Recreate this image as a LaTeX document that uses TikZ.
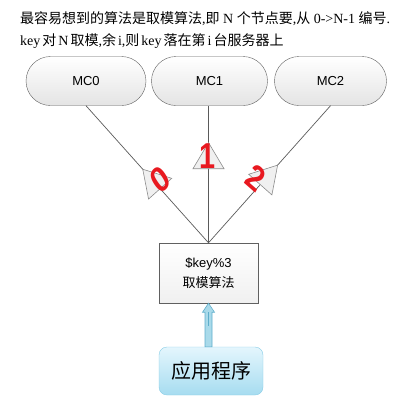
\documentclass[tikz,border=0pt]{standalone}
\usepackage{fontspec}
\setmainfont{Liberation Serif}
\newfontfamily\zhfont{Noto Sans CJK SC}
\newfontfamily\arialfont{Liberation Sans}
\newcommand\zh[1]{{\zhfont #1}}
\usetikzlibrary{arrows.meta,decorations.markings,shapes.misc}
\definecolor{linegray}{HTML}{5A5A5A}
\definecolor{boxline}{HTML}{606060}
\definecolor{mcgray}{HTML}{E4E4E4}
\definecolor{trifill}{HTML}{F0F0F0}
\definecolor{triline}{HTML}{8C8C8C}
\definecolor{digitred}{HTML}{E81920}
\definecolor{apptop}{HTML}{E4F6FD}
\definecolor{appbot}{HTML}{A6DCF0}
\definecolor{appline}{HTML}{88CDE6}
\definecolor{arrowfill}{HTML}{A9DAEA}
\definecolor{arrowline}{HTML}{5FAECB}

\begin{document}
\begin{tikzpicture}[x=1pt, y=-1pt,
    mcnode/.style={rounded rectangle, draw=boxline, top color=white,
        bottom color=mcgray, minimum height=49pt, inner sep=0pt,
        font=\arialfont\fontsize{13}{15}\selectfont},
    link/.style={draw=linegray, line width=0.7pt, postaction={decorate},
        decoration={markings, mark=at position #1 with {\arrow
        {Triangle[length=27pt,width=32pt,fill=trifill,color=triline,line width=0.6pt]}}}},
    digit/.style={text=digitred, inner sep=0pt, xscale=0.8,
        font=\arialfont\bfseries\fontsize{36}{36}\selectfont}]
    \useasboundingbox (0,0) rectangle (407,405);
    % heading
    \node[anchor=base west, inner sep=0pt, font=\fontsize{14}{16}\selectfont] (line1) at (20,23)
        {\zh{最容易想到的算法是取模算法},\zh{即} N \zh{个节点要},\zh{从} 0->N-1 \zh{编号}.};
    \node[anchor=base west, inner sep=0pt, font=\fontsize{14}{16}\selectfont] (line2) at (20,45)
        {\spaceskip=2pt key \zh{对} N \zh{取模},\zh{余} i,\zh{则} key \zh{落在第} i \zh{台服务器上}};
    % servers
    \node[mcnode, minimum width=120pt] (mc0) at (86,81) {MC0};
    \node[mcnode, minimum width=116pt] (mc1) at (209.5,81) {MC1};
    \node[mcnode, minimum width=112pt] (mc2) at (330.5,81) {MC2};
    % hashing box
    \node[draw=boxline, top color=white, bottom color=trifill, minimum width=99pt,
        minimum height=60pt, align=center, font=\arialfont\fontsize{13}{20}\selectfont]
        (calc) at (208.5,273) {\$key\%3\\\zh{取模算法}};
    % application
    \node[draw=appline, rounded corners=8pt, top color=apptop, bottom color=appbot,
        minimum width=104pt, minimum height=48pt, font=\zhfont\fontsize{20}{22}\selectfont]
        (app) at (211,371) {应用程序};
    % links to the servers
    \draw[link=0.54] (calc.north) -- (mc0.south);
    \draw[link=0.735] (calc.north) -- (mc1.south -| calc.north);
    \draw[link=0.57] (calc.north) -- (mc2.south);
    \node[digit, rotate=40] (d0) at (160,180) {0};
    \node[digit] (d1) at (208,156) {1};
    \node[digit, rotate=-35] (d2) at (256,178) {2};
    % request arrow
    \coordinate (tip) at (calc.south);
    \coordinate (foot) at (calc.south |- app.north);
    \draw[draw=arrowline, fill=arrowfill, line width=0.6pt] (tip) -- ++(6,9) coordinate (hr)
        -- ++(-2.5,0) |- ([xshift=-3.5pt]foot) |- ([xshift=-12pt]hr) -- cycle;
    \draw[arrowline, line width=0.4pt] ([yshift=-9pt]tip) -- ++(0,14);
\end{tikzpicture}
\end{document}
